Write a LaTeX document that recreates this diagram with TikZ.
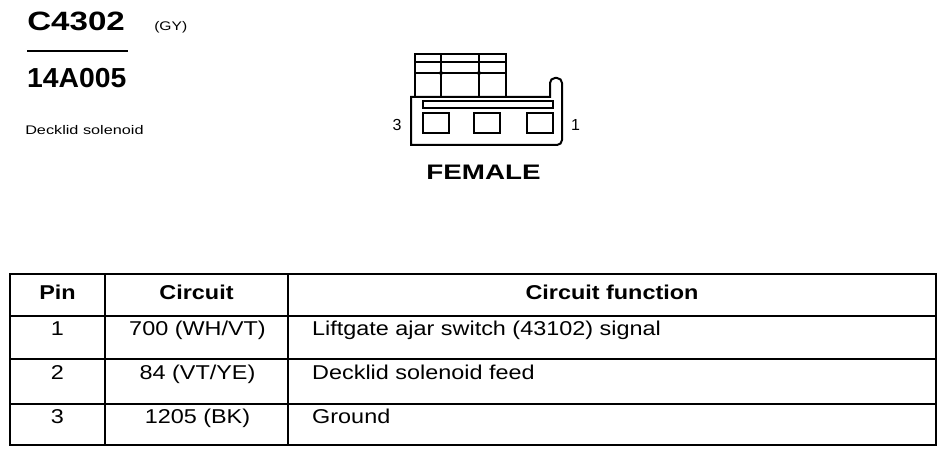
\documentclass[tikz,border=0pt]{standalone}
\usepackage{fontspec}
\setmainfont{Liberation Sans}

\begin{document}
\begin{tikzpicture}[x=1pt, y=-1pt,
	txt/.style={inner sep=0pt, anchor=base, font=\fontsize{20}{24}\selectfont, xscale=1.17},
	hd/.style={txt, font=\bfseries\fontsize{20}{24}\selectfont},
	rule/.style={line width=2.8pt},
	part/.style={line width=2pt}]
\useasboundingbox (0,0) rectangle (947,457);

% title block, top left
\node[anchor=base west, inner sep=0pt, font=\bfseries\fontsize{26.5}{30}\selectfont, xscale=1.25] (conn) at (27,31) {C4302};
\node[anchor=base west, inner sep=0pt, font=\fontsize{12.5}{15}\selectfont, xscale=1.25] (colour) at (154,31) {(GY)};
\coordinate (ulA) at (27,51);
\coordinate (ulB) at (128,51);
\draw[line width=2pt] (ulA) -- (ulB);
\node[anchor=base west, inner sep=0pt, font=\bfseries\fontsize{27.5}{30}\selectfont, xscale=1.03] (partno) at (27,88) {14A005};
\node[anchor=base west, inner sep=0pt, font=\fontsize{12.5}{15}\selectfont, xscale=1.3] (descr) at (25,135) {Decklid solenoid};

% connector face
\draw[part] (415,97) -- (415,54) -- (506,54) -- (506,97);
\foreach \y in {62,73}{
	\draw[part] (415,\y)--(506,\y);
}
\foreach \x in {441,479}{
	\draw[part] (\x,54)--(\x,97);
	\fill (\x,73) circle (2);
}
\draw[part] (411,145) -- (411,97) -- (550,97) [rounded corners=5pt] -- (550,78) -- (562,78) -- (562,145) [sharp corners] -- cycle;
\draw[part] (423,101) rectangle (553,108);
\foreach \x in {423,474,527}{
	\draw[part] (\x,113) rectangle ++(26,20);
}
\node[font=\fontsize{16}{18}\selectfont, inner sep=0pt] (pinC) at (397,125) {3};
\node[font=\fontsize{16}{18}\selectfont, inner sep=0pt] (pinA) at (575.5,125) {1};
\node[hd, font=\bfseries\fontsize{21}{24}\selectfont, xscale=1.13] (gender) at (483.5,179) {FEMALE};

% pin table
\draw[rule] (10,274) rectangle (936,445);
\foreach \y in {316,359,404}{
	\draw[rule] (10,\y)--(936,\y);
}
\foreach \x in {105,288}{
	\draw[rule] (\x,274)--(\x,445);
}

\node[hd] (hPin) at (57.5,299) {Pin};
\node[hd] (hCkt) at (196.5,299) {Circuit};
\node[hd] (hFn) at (612,299) {Circuit function};

\node[txt] (pA) at (57.5,335) {1};
\node[txt] (cA) at (197.5,335) {700 (WH/VT)};
\node[txt, anchor=base west] (fA) at (312,335) {Liftgate ajar switch (43102) signal};

\node[txt] (pB) at (57.5,379) {2};
\node[txt] (cB) at (197.5,379) {84 (VT/YE)};
\node[txt, anchor=base west] (fB) at (312,379) {Decklid solenoid feed};

\node[txt] (pC) at (57.5,423) {3};
\node[txt] (cC) at (197.5,423) {1205 (BK)};
\node[txt, anchor=base west] (fC) at (312,423) {Ground};

\end{tikzpicture}
\end{document}
